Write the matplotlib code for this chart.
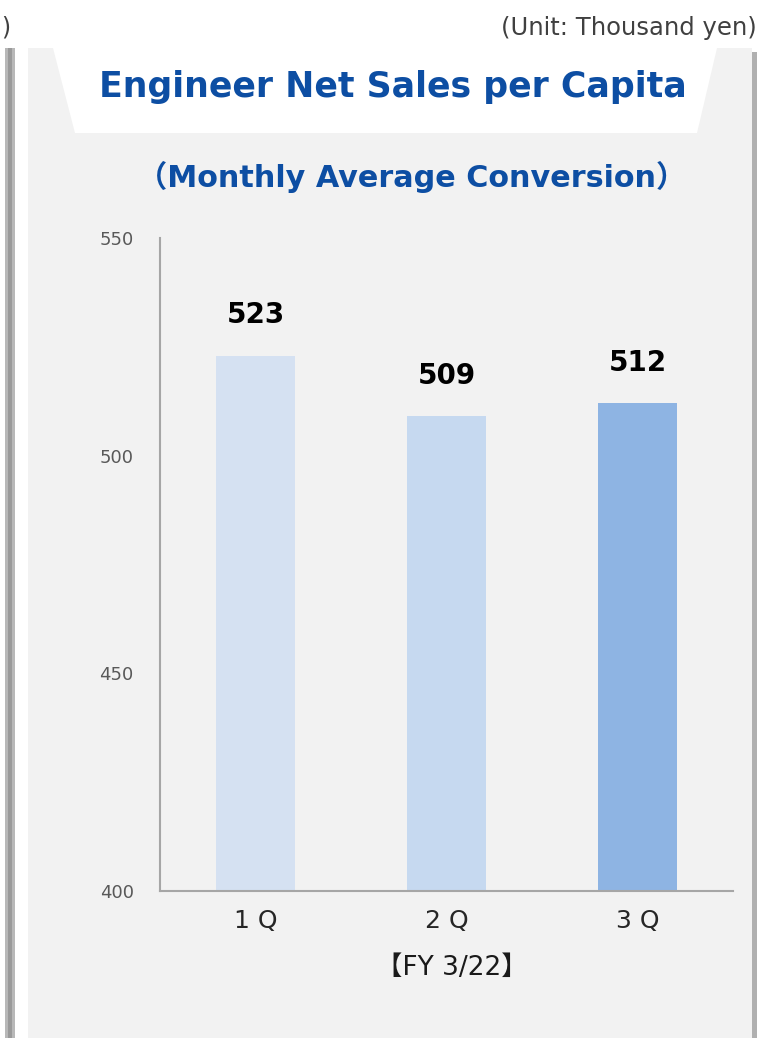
import matplotlib
matplotlib.use("Agg")
import matplotlib.pyplot as plt
from matplotlib.patches import Rectangle, Polygon

# data
quarters = ["1Q", "2Q", "3Q"]
sales = [523, 509, 512]
bar_colors = ["#d5e1f2", "#c6d9f0", "#8eb4e3"]
y_ticks = [400, 450, 500, 550]

title = "Engineer Net Sales per Capita"
subtitle = "（Monthly Average Conversion）"
unit_note = "(Unit: Thousand yen)"
period = "【FY 3/22】"

W, H = 761, 1038
fig = plt.figure(figsize=(W / 100, H / 100), dpi=100)
fig.patch.set_facecolor("white")

# background panel, drawn in pixel coords
bg = fig.add_axes([0, 0, 1, 1], zorder=0)
bg.set_xlim(0, W)
bg.set_ylim(H, 0)
bg.axis("off")

# shadow of the neighbouring panel on the left
bg.add_patch(Rectangle((5, 48), 10, H - 48, color="#b8b8b8", lw=0))
bg.add_patch(Rectangle((8, 48), 4, H - 48, color="#9a9a9a", lw=0))
# panel + right shadow
bg.add_patch(Rectangle((752, 52), 5, H - 52, color="#b0b0b0", lw=0))
bg.add_patch(Rectangle((28, 48), 724, H - 48, color="#f2f2f2", lw=0))
# white tab behind the title
bg.add_patch(Polygon([(53, 48), (717, 48), (697, 133), (75, 133)],
                     closed=True, color="white", lw=0))

bg.text(1, 28, ")", ha="left", va="center", fontsize=17, color="#404040")
bg.text(757, 28, unit_note, ha="right", va="center", fontsize=17.5, color="#404040")
bg.text(393, 87, title, ha="center", va="center", fontsize=25,
        fontweight="bold", color="#0d4ea3")
bg.text(412, 177, subtitle, ha="center", va="center", fontsize=21.8,
        fontweight="bold", color="#0d4ea3",
        family=["DejaVu Sans", "Noto Sans CJK JP"])
bg.text(452, 968, period, ha="center", va="center", fontsize=19,
        color="#1a1a1a", family=["DejaVu Sans", "Noto Sans CJK JP"])

# chart
ax = fig.add_axes([160 / W, (H - 891) / H, 573 / W, 653 / H], zorder=1)
ax.patch.set_alpha(0)
x = range(len(quarters))
bars = ax.bar(x, sales, width=0.41, color=bar_colors, zorder=2)
ax.set_xlim(-0.5, 2.5)
ax.set_ylim(400, 550)
ax.set_yticks(y_ticks)
ax.set_xticks(list(x))
ax.set_xticklabels([" ".join(q) for q in quarters])

for b, v in zip(bars, sales):
    ax.annotate(str(v), (b.get_x() + b.get_width() / 2, v),
                xytext=(0, 29), textcoords="offset points",
                ha="center", va="center", fontsize=20, fontweight="bold",
                color="black")

for s in ["top", "right"]:
    ax.spines[s].set_visible(False)
for s in ["left", "bottom"]:
    ax.spines[s].set_color("#a6a6a6")
    ax.spines[s].set_linewidth(1.5)

ax.tick_params(axis="y", length=0, pad=19, labelsize=13, labelcolor="#595959")
ax.tick_params(axis="x", length=0, pad=13, labelsize=18, labelcolor="#262626")

fig.savefig("out.png", dpi=100, facecolor=fig.get_facecolor())
